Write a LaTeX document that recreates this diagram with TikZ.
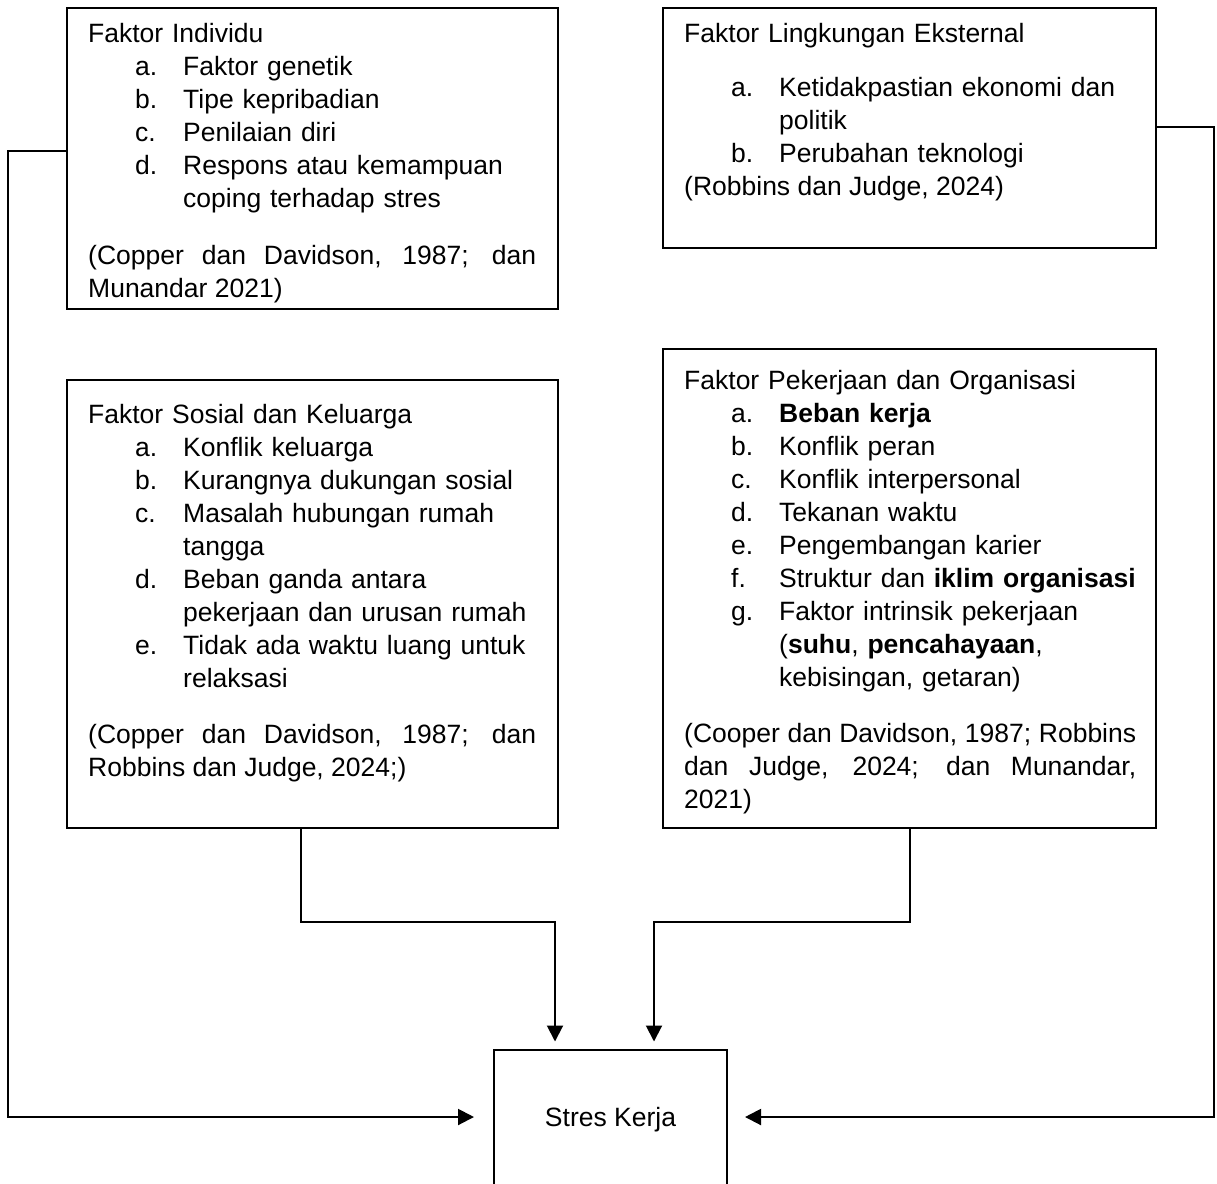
\documentclass[tikz,border=0pt]{standalone}
\usepackage{fontspec}
\setmainfont{Liberation Sans}
\usetikzlibrary{arrows.meta}

\newcommand{\hurufIsi}{\fontsize{26.5}{33}\selectfont}
\newcommand{\baris}{\hfil\break}
\newcommand{\butir}[2]{\par\noindent\hangindent=95pt\hangafter=1\hbox to 95pt{\hspace{47pt}#1\hfil}#2}
\newcommand{\rujukan}[2][23.5pt]{\par\vspace{#1}\noindent{\rightskip=0pt\spaceskip=0pt\relax #2\par}}

\begin{document}
\begin{tikzpicture}[x=1pt,y=-1pt,
  kotak/.style={draw, line width=2pt, anchor=north west, inner sep=0pt},
  isi/.style={anchor=base west, inner sep=0pt, text width=452pt, align=left, font=\hurufIsi},
  panah/.style={line width=2pt, -{Triangle[length=16pt,width=16pt]}}]
\useasboundingbox (0,0) rectangle (1217,1183);

  \node[kotak, minimum width=491pt, minimum height=301pt] (individu) at (66,7) {};
  \node[kotak, minimum width=493pt, minimum height=240pt] (lingkungan) at (662,7) {};
  \node[kotak, minimum width=491pt, minimum height=448pt] (sosial) at (66,379) {};
  \node[kotak, minimum width=493pt, minimum height=479pt] (pekerjaan) at (662,348) {};
  \node[draw, line width=2pt, minimum width=233pt, minimum height=135pt, text depth=0pt,
    font=\hurufIsi] (stres) at (610.5,1117) {Stres Kerja};

  \node[isi, text width=448pt] (individuTeks) at (88,42) {\hyphenpenalty=10000\relax Faktor Individu
    \butir{a.}{Faktor genetik}
    \butir{b.}{Tipe kepribadian}
    \butir{c.}{Penilaian diri}
    \butir{d.}{Respons atau kemampuan\baris coping terhadap stres}
    \rujukan[24pt]{(Copper dan Davidson, 1987; dan\linebreak Munandar 2021)}};

  \node[isi] (lingkunganTeks) at (684,42) {\hyphenpenalty=10000\relax Faktor Lingkungan Eksternal\par\vspace{21pt}
    \butir{a.}{Ketidakpastian ekonomi dan\baris politik}
    \butir{b.}{Perubahan teknologi}
    \rujukan[0pt]{(Robbins dan Judge, 2024)}};

  \node[isi, text width=448pt] (sosialTeks) at (88,423) {\hyphenpenalty=10000\relax Faktor Sosial dan Keluarga
    \butir{a.}{Konflik keluarga}
    \butir{b.}{Kurangnya dukungan sosial}
    \butir{c.}{Masalah hubungan rumah\baris tangga}
    \butir{d.}{Beban ganda antara\baris pekerjaan dan urusan rumah}
    \butir{e.}{Tidak ada waktu luang untuk\baris relaksasi}
    \rujukan{(Copper dan Davidson, 1987; dan\linebreak Robbins dan Judge, 2024;)}};

  \node[isi] (pekerjaanTeks) at (684,389) {\hyphenpenalty=10000\relax Faktor Pekerjaan dan Organisasi
    \butir{a.}{\textbf{Beban kerja}}
    \butir{b.}{Konflik peran}
    \butir{c.}{Konflik interpersonal}
    \butir{d.}{Tekanan waktu}
    \butir{e.}{Pengembangan karier}
    \butir{f.}{Struktur dan \textbf{iklim organisasi}}
    \butir{g.}{Faktor intrinsik pekerjaan\baris (\textbf{suhu}, \textbf{pencahayaan},\baris kebisingan, getaran)}
    \rujukan{(Cooper dan Davidson, 1987; Robbins\linebreak dan Judge, 2024; dan Munandar,\linebreak 2021)}};

  \draw[panah, shorten >=19pt] ([yshift=7.5pt]individu.west) -- ++(-58,0) |- (stres.west);
  \draw[panah, shorten >=17pt] ([yshift=1pt]lingkungan.east) -- ++(57,0) |- (stres.east);
  \draw[panah, shorten >=7pt] ([xshift=-11.5pt]sosial.south) -- ++(0,93) -| ([xshift=-55.5pt]stres.north);
  \draw[panah, shorten >=7pt] (pekerjaan.south) -- ++(0,93) -| ([xshift=43.5pt]stres.north);
\end{tikzpicture}
\end{document}
